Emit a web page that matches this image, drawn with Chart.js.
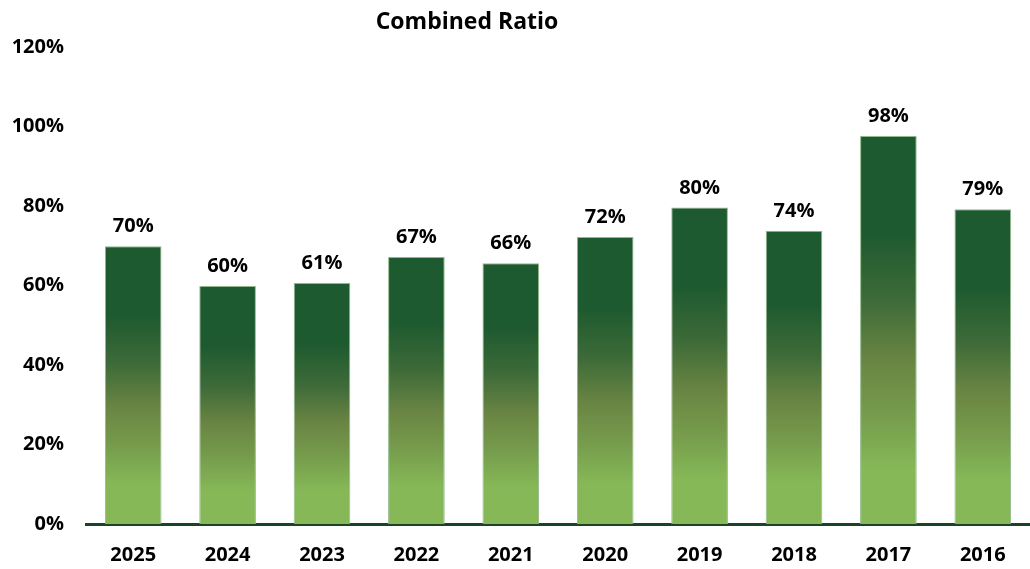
<!DOCTYPE html>
<html>
<head>
<meta charset="utf-8">
<script src="https://cdn.jsdelivr.net/npm/chart.js@4.4.1/dist/chart.umd.min.js"></script>
<style>
html,body{margin:0;padding:0;background:#fff;}
#wrap{width:1030px;height:569px;position:relative;}
</style>
</head>
<body>
<div id="wrap"><canvas id="c" width="1030" height="569"></canvas></div>
<script>
const chartTitle = "Combined Ratio";
const years = ["2025","2024","2023","2022","2021","2020","2019","2018","2017","2016"];
const combinedRatio = [69.9, 59.9, 60.6, 67.2, 65.6, 72.2, 79.6, 73.8, 97.6, 79.2];
const yTickValues = [0, 20, 40, 60, 80, 100, 120];

const FONT = "'Open Sans'";

function barGradient(ctx) {
  const chart = ctx.chart;
  const y = chart.scales && chart.scales.y;
  if (!y || ctx.dataIndex === undefined) return "#4f7a3a";
  const v = ctx.dataset.data[ctx.dataIndex];
  const top = y.getPixelForValue(v);
  const bottom = y.getPixelForValue(0);
  if (!isFinite(top) || !isFinite(bottom) || top === bottom) return "#4f7a3a";
  const g = chart.ctx.createLinearGradient(0, top, 0, bottom);
  g.addColorStop(0, "#1e5a2f");
  g.addColorStop(0.25, "#1e5a2f");
  g.addColorStop(0.42, "#3d6a38");
  g.addColorStop(0.58, "#6a8543");
  g.addColorStop(0.72, "#769c4c");
  g.addColorStop(0.86, "#86b857");
  g.addColorStop(1, "#86b857");
  return g;
}

const valueLabels = {
  id: "valueLabels",
  afterDatasetsDraw(chart) {
    const ctx = chart.ctx;
    const meta = chart.getDatasetMeta(0);
    ctx.save();
    ctx.font = "bold 20px " + FONT;
    ctx.fillStyle = "#000";
    ctx.textAlign = "center";
    ctx.textBaseline = "alphabetic";
    meta.data.forEach((bar, i) => {
      const v = chart.data.datasets[0].data[i];
      ctx.fillText(Math.round(v) + "%", bar.x, bar.y - 14);
    });
    ctx.restore();
  }
};

// Title drawn off-centre, as in the reference (centred over x ≈ 467)
const offsetTitle = {
  id: "offsetTitle",
  afterDraw(chart) {
    const ctx = chart.ctx;
    ctx.save();
    ctx.font = "bold 23px " + FONT;
    ctx.fillStyle = "#000";
    ctx.textAlign = "center";
    ctx.textBaseline = "middle";
    ctx.fillText(chartTitle, 467, 22);
    ctx.restore();
  }
};

new Chart(document.getElementById("c"), {
  type: "bar",
  data: {
    labels: years,
    datasets: [{
      data: combinedRatio,
      backgroundColor: barGradient,
      borderColor: "#8fb98a",
      borderWidth: 1,
      barPercentage: 0.6,
      categoryPercentage: 1.0
    }]
  },
  options: {
    responsive: false,
    animation: false,
    layout: { padding: { left: 0, right: 0, top: 47, bottom: 0 } },
    plugins: {
      legend: { display: false },
      tooltip: { enabled: false },
      title: { display: false }
    },
    scales: {
      x: {
        afterFit(axis) { axis.height = 45; },
        grid: { display: false, drawTicks: false },
        border: { display: true, color: "#1b4325", width: 3 },
        ticks: {
          color: "#000",
          font: { family: FONT, size: 20, weight: "bold" },
          padding: 19,
          maxRotation: 0
        }
      },
      y: {
        min: 0,
        max: 120,
        afterBuildTicks(axis) { axis.ticks = yTickValues.map(v => ({ value: v })); },
        afterFit(axis) { axis.width = 86; },
        grid: { display: false, drawTicks: false },
        border: { display: false },
        ticks: {
          color: "#000",
          font: { family: FONT, size: 20, weight: "bold" },
          padding: 22,
          callback: v => v + "%"
        }
      }
    }
  },
  plugins: [valueLabels, offsetTitle]
});
</script>
</body>
</html>
